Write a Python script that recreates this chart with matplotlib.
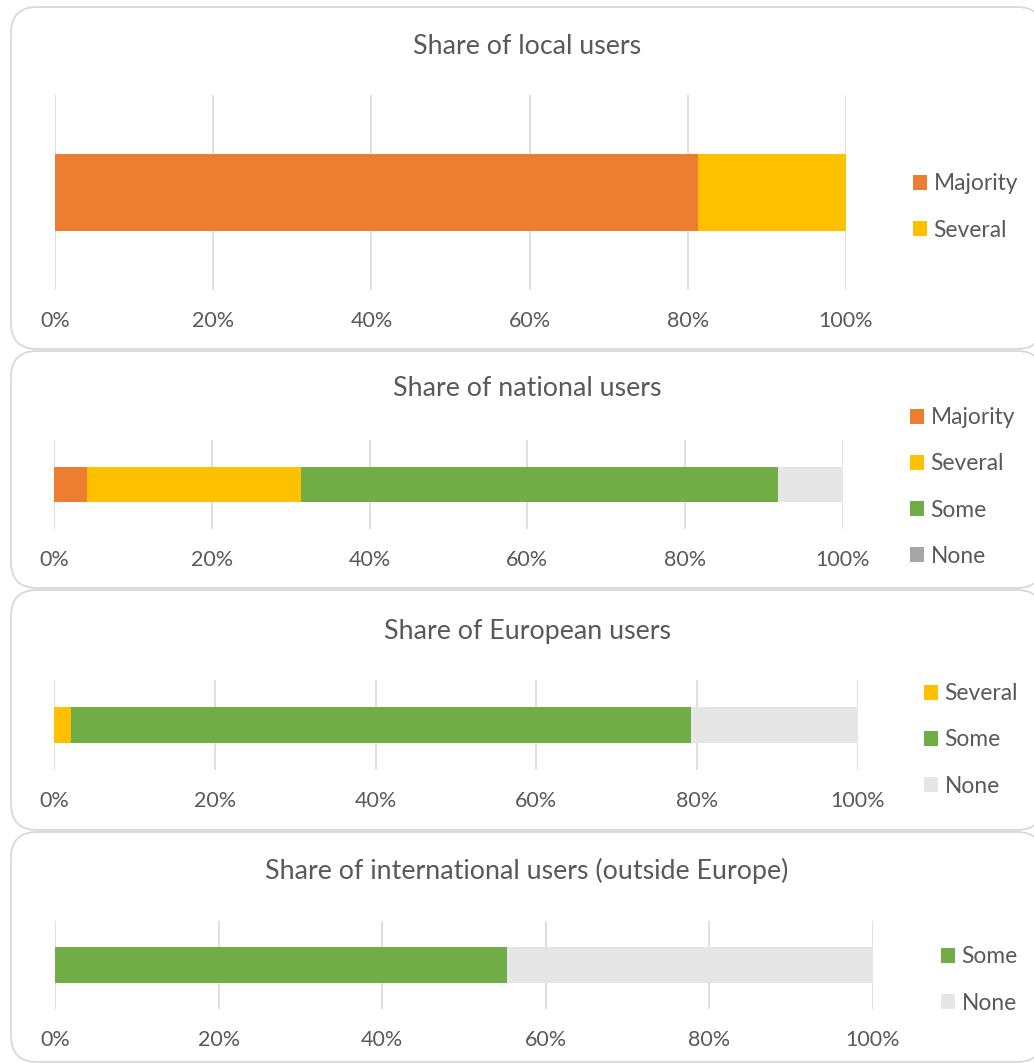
import matplotlib.pyplot as plt
from matplotlib.patches import FancyBboxPatch, Patch

plt.rcParams['font.family'] = ['Lato', 'DejaVu Sans']

# data (share of respondents, %)
titles = ['Share of local users',
          'Share of national users',
          'Share of European users',
          'Share of international users (outside Europe)']
local_cats = ['Majority', 'Several']
local_vals = [81.25, 18.75]
national_cats = ['Majority', 'Several', 'Some', 'None']
national_vals = [4.2, 27.1, 60.4, 8.3]
european_cats = ['Several', 'Some', 'None']
european_vals = [2.1, 77.1, 20.8]
intl_cats = ['Some', 'None']
intl_vals = [55.3, 44.7]
tick_labels = ['0%', '20%', '40%', '60%', '80%', '100%']

colors = {'Majority': '#ED7D31', 'Several': '#FFC000',
          'Some': '#70AD47', 'None': '#E7E6E6'}
txt = '#595959'
line = '#D9D9D9'

W, H = 1034, 1063
fig = plt.figure(figsize=(W / 100, H / 100), dpi=100)
bg = fig.add_axes([0, 0, 1, 1])
bg.set_xlim(0, W)
bg.set_ylim(H, 0)
bg.axis('off')

# panel layout in pixels: box top/bottom, axis left/right/top/bottom, bar height,
# title y, legend x and centre y
panels = [
    dict(box=(7, 349), ax=(55, 846, 95, 290), bh=0.395, ty=47, lx=913, ly=207),
    dict(box=(351, 588), ax=(54, 843, 440, 529), bh=0.40, ty=389, lx=910, ly=487),
    dict(box=(590, 830), ax=(54, 858, 680, 770), bh=0.40, ty=631, lx=924, ly=740),
    dict(box=(832, 1062), ax=(55, 873, 921, 1009), bh=0.41, ty=871, lx=941, ly=980),
]
data = [(local_cats, local_vals), (national_cats, national_vals),
        (european_cats, european_vals), (intl_cats, intl_vals)]

for i, (p, (cats, vals)) in enumerate(zip(panels, data)):
    y0, y1 = p['box']
    bg.add_patch(FancyBboxPatch((11, y0), 1032, y1 - y0,
                                boxstyle='round,pad=0,rounding_size=26',
                                fc='white', ec=line, lw=1.3))
    x0, x1, t, b = p['ax']
    ax = fig.add_axes([x0 / W, 1 - b / H, (x1 - x0) / W, (b - t) / H])
    ax.patch.set_alpha(0)
    left = 0
    for c, v in zip(cats, vals):
        ax.barh(0, v, left=left, height=p['bh'], color=colors[c], zorder=3)
        left += v
    ax.set_xlim(0, 100)
    ax.set_ylim(-0.5, 0.5)
    ax.set_xticks([0, 20, 40, 60, 80, 100])
    ax.set_xticklabels(tick_labels, fontsize=15.5, color=txt)
    ax.set_yticks([])
    ax.tick_params(axis='x', length=0, pad=15)
    ax.grid(axis='x', color=line, lw=1.2, zorder=0)
    for s in ax.spines.values():
        s.set_visible(False)
    bg.text(527, p['ty'], titles[i], ha='center', va='center',
            fontsize=19.3, color=txt)

    handles = []
    for c in cats:
        fc = colors[c]
        if i == 1 and c == 'None':
            fc = '#A5A5A5'
        handles.append(Patch(facecolor=fc, edgecolor='none'))
    ax.legend(handles, cats, loc='center left',
              bbox_to_anchor=(p['lx'] / W, 1 - p['ly'] / H),
              bbox_transform=fig.transFigure, frameon=False,
              fontsize=16.4, labelcolor=txt, handlelength=0.6, handleheight=0.6,
              handletextpad=0.3, labelspacing=1.1, borderpad=0, borderaxespad=0)

plt.savefig('out.png', dpi=100)
